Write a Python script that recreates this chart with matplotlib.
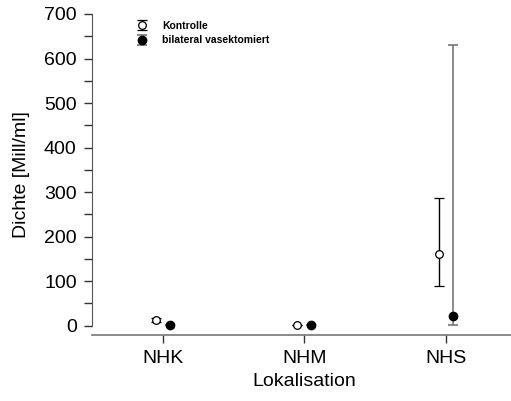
import matplotlib
matplotlib.use("Agg")
import matplotlib.pyplot as plt
import numpy as np

plt.rcParams['font.family'] = ['Liberation Sans', 'DejaVu Sans']

orte = ["NHK", "NHM", "NHS"]
kontrolle = [13, 2, 162]
kontrolle_lo = [8, 2, 90]
kontrolle_hi = [18, 2, 287]
vasek = [1, 2, 22]
vasek_lo = [1, 2, 2]
vasek_hi = [1, 2, 630]

x = np.arange(1, len(orte) + 1)
k = np.array(kontrolle)
v = np.array(vasek)

fig = plt.figure(figsize=(5.11, 4.01), dpi=100)
ax = fig.add_axes([92/511, 66/401, 424.5/511, 321/401])

ax.errorbar(x - 0.05, k, yerr=[k - np.array(kontrolle_lo), np.array(kontrolle_hi) - k],
            fmt='o', mfc='white', mec='black', color='black', ms=5.5, mew=0.9,
            capsize=3.5, elinewidth=1, capthick=1, label="Kontrolle", zorder=3)
ax.errorbar(x + 0.05, v, yerr=[v - np.array(vasek_lo), np.array(vasek_hi) - v],
            fmt='o', mfc='black', mec='black', ecolor='#777777', color='black', ms=6,
            capsize=3.5, elinewidth=1.2, capthick=1.2, label="bilateral vasektomiert", zorder=3)

ax.set_xlim(0.5, 3.5)
ax.set_ylim(-20.9, 700)
ax.set_xticks(x)
ax.set_xticklabels(orte)
ax.set_yticks(range(0, 701, 100))
ax.set_yticks(range(50, 700, 100), minor=True)

for s in ['top', 'right']:
    ax.spines[s].set_visible(False)
ax.spines['left'].set_bounds(0, 700)
ax.spines['left'].set_color('#555555')
ax.spines['bottom'].set_color('#777777')
ax.spines['bottom'].set_linewidth(1.2)
ax.tick_params(axis='both', direction='out', length=6, width=1, labelsize=14, color='#333333')
ax.tick_params(axis='y', which='minor', length=6, width=1, color='#333333')
ax.tick_params(axis='y', pad=5)
ax.tick_params(axis='x', pad=5)

ax.set_ylabel("Dichte [Mill/ml]", fontsize=14, labelpad=10)
ax.set_xlabel("Lokalisation", fontsize=14, labelpad=4)

leg = ax.legend(loc='upper left', bbox_to_anchor=(0.08, 1.008), frameon=False,
                prop={'weight': 'bold', 'size': 7.5}, handlelength=1.2,
                handletextpad=1.4, labelspacing=0.45)

fig.savefig("out.png", dpi=100)
